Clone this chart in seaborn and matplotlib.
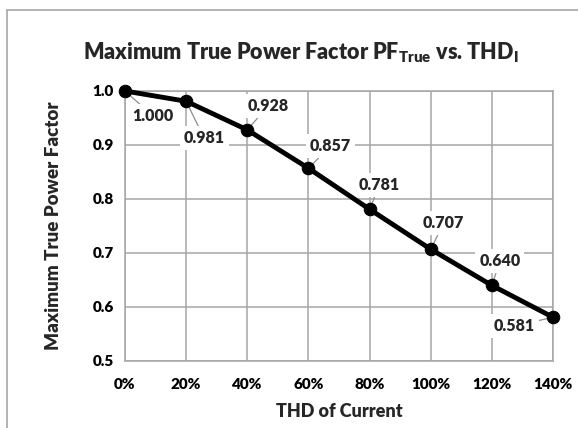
import matplotlib
matplotlib.use("Agg")
import matplotlib.pyplot as plt
import seaborn as sns
import pandas as pd
from matplotlib.lines import Line2D
from matplotlib.ticker import FuncFormatter

thd = [0.0, 0.2, 0.4, 0.6, 0.8, 1.0, 1.2, 1.4]
pf = [1.000, 0.981, 0.928, 0.857, 0.781, 0.707, 0.640, 0.581]
labels = ["1.000", "0.981", "0.928", "0.857", "0.781", "0.707", "0.640", "0.581"]

df = pd.DataFrame({"thd": thd, "pf": pf})

sns.set_theme(style="white")
plt.rcParams["font.family"] = ["Lato", "DejaVu Sans"]
plt.rcParams["mathtext.fontset"] = "custom"
plt.rcParams["mathtext.bf"] = "Lato:heavy"
plt.rcParams["mathtext.rm"] = "Lato:heavy"

W = "heavy"

fig = plt.figure(figsize=(5.78, 4.28), dpi=100)
ax = fig.add_axes([125/578, 1-361/428, (553-125)/578, (361-91)/428])

grid_c = "#a6a6a6"
ax.set_xlim(0, 1.4)
ax.set_ylim(0.5, 1.0)
ax.set_xticks(thd)
ax.set_yticks([0.5, 0.6, 0.7, 0.8, 0.9, 1.0])
ax.grid(True, color=grid_c, lw=1.1)
for s in ax.spines.values():
    s.set_color(grid_c)
    s.set_linewidth(1.1)

sns.lineplot(data=df, x="thd", y="pf", ax=ax, color="black", lw=3.5,
             marker="o", markersize=9, markeredgecolor="black", zorder=5, clip_on=False)

ax.xaxis.set_major_formatter(FuncFormatter(lambda v, p: f"{v*100:.0f}%"))
ax.yaxis.set_major_formatter(FuncFormatter(lambda v, p: f"{v:.1f}"))
ax.tick_params(axis="both", length=0, labelsize=11, colors="black")
ax.tick_params(axis="x", pad=12)
ax.tick_params(axis="y", pad=8)
for t in ax.get_xticklabels() + ax.get_yticklabels():
    t.set_fontweight(W)

offsets = [(28, -25), (18, -37), (21, 24), (22, 22), (10, 24), (13, 26), (8, 24), (-39, -9)]
for x, y, lab, off in zip(thd, pf, labels, offsets):
    ax.annotate(lab, xy=(x, y), xytext=off, textcoords="offset pixels",
                ha="center", va="center", fontsize=11.5, fontweight=W,
                bbox=dict(boxstyle="square,pad=0.25", fc="white", ec="none"),
                arrowprops=dict(arrowstyle="-", color="#8c8c8c", lw=0.9,
                                shrinkA=0, shrinkB=0),
                zorder=4)

ax.set_xlabel("THD of Current", fontsize=13, fontweight=W, labelpad=9)
ax.set_ylabel("Maximum True Power Factor", fontsize=13.5, fontweight=W, labelpad=22)

fig.text(301/578, 1-59/428, r"Maximum True Power Factor PF$_{\mathbf{True}}$ vs. THD$_{\mathbf{I}}$",
         ha="center", va="baseline", fontsize=15.5, fontweight=W)

fig.add_artist(Line2D([7/578, 7/578], [0, 1-10/428], color="#a6a6a6", lw=1.2))
fig.add_artist(Line2D([7/578, 1], [1-10/428, 1-10/428], color="#a6a6a6", lw=1.2))

fig.savefig("out.png", dpi=100)
